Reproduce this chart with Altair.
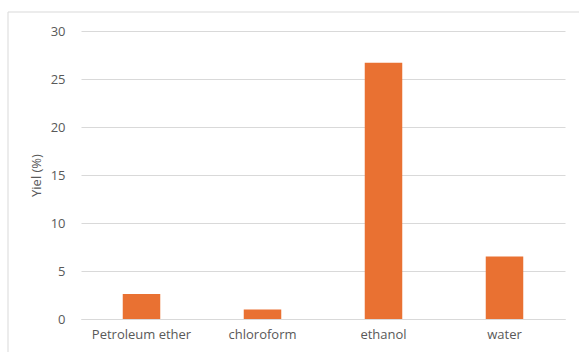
import altair as alt
import pandas as pd

categories = ["Petroleum ether", "chloroform", "ethanol", "water"]
yields = [2.6, 1.0, 26.7, 6.5]

df = pd.DataFrame({"solvent": categories, "yield": yields})

FONT = "Open Sans"
GRAY = "#595959"

frame = alt.Chart(pd.DataFrame({"a": [0]})).mark_rect(
    fillOpacity=0, stroke="#d9d9d9", strokeWidth=1
).encode(
    x=alt.value(-73), x2=alt.value(600), y=alt.value(-19), y2=alt.value(400)
)

bars = alt.Chart(df).mark_bar(color="#E97132").encode(
    x=alt.X("solvent:N", sort=categories, title=None,
            scale=alt.Scale(paddingInner=0.69, paddingOuter=0.345),
            axis=alt.Axis(labelAngle=0, labelFont=FONT, labelFontSize=13,
                          labelColor=GRAY, ticks=False, domain=True,
                          domainColor="#d9d9d9", labelPadding=9, grid=False)),
    y=alt.Y("yield:Q", title="Yiel (%)",
            scale=alt.Scale(domain=[0, 30]),
            axis=alt.Axis(values=[0, 5, 10, 15, 20, 25, 30], labelFont=FONT,
                          labelFontSize=13, labelColor=GRAY, ticks=False,
                          domain=False, labelPadding=16, gridColor="#d9d9d9",
                          titleFont=FONT, titleFontSize=13, titleFontWeight="normal",
                          titleColor=GRAY, titlePadding=7)),
)

chart = alt.layer(frame, bars).properties(
    width=484, height=288,
    autosize=alt.AutoSizeParams(type="none"),
    padding={"left": 81, "top": 31, "right": 14, "bottom": 33},
    background="white",
).configure_view(stroke=None)

chart.save("out.html", embed_options={"renderer": "svg", "actions": False})
